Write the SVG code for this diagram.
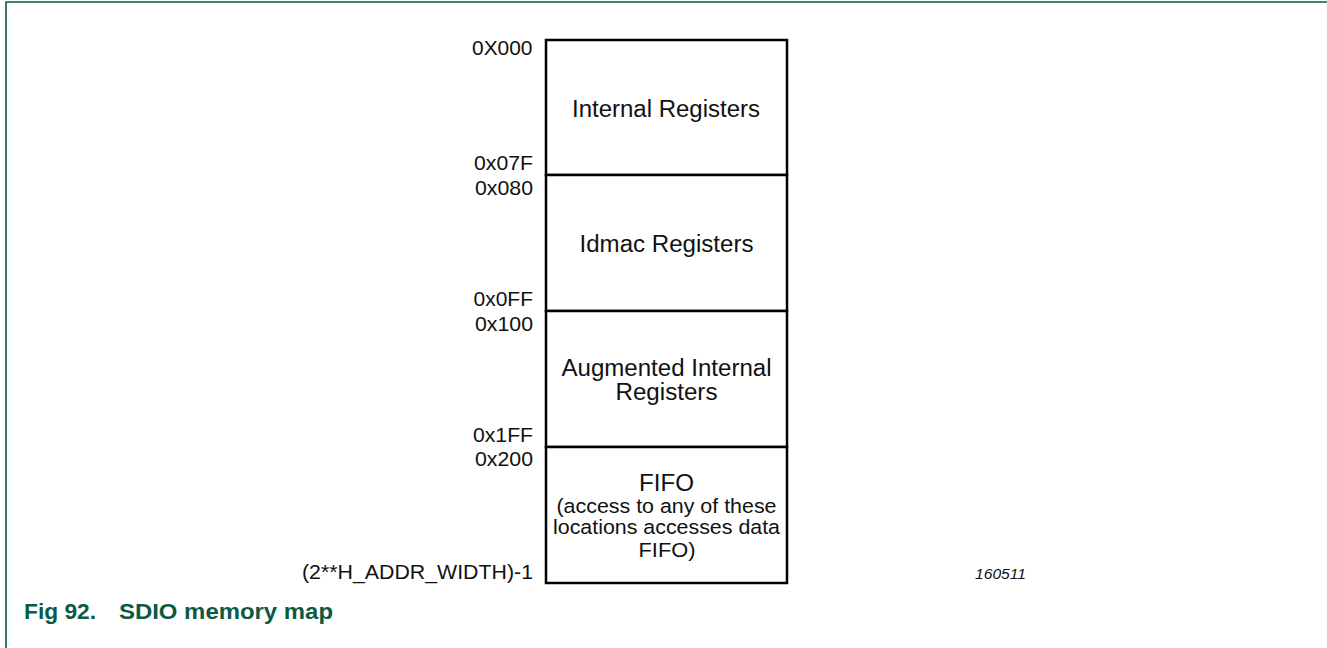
<svg xmlns="http://www.w3.org/2000/svg" width="1327" height="648" viewBox="0 0 1327 648">
<style>
  .frame { stroke: #0a5a44; stroke-width: 1.6; fill: none; }
  .box { fill: #ffffff; stroke: #000000; stroke-width: 2.5; }
  .t { font-family: "Liberation Sans", Arial, sans-serif; fill: #111111; }
  .title { font-size: 23px; }
  .sub { font-size: 20.5px; }
  .lbl { font-size: 20.5px; }
  .cap { font-family: "Liberation Sans", Arial, sans-serif; font-weight: bold; font-size: 22px; fill: #0a5a44; }
  .ref { font-family: "Liberation Sans", Arial, sans-serif; font-style: italic; font-size: 14px; fill: #111111; }
</style>
<rect width="1327" height="648" fill="#ffffff"/>
<path class="frame" d="M6 648 V2 H1327"/>

<g id="internal-registers">
  <rect class="box" x="546" y="40" width="241" height="135"/>
  <text class="t title" x="572" y="116.5" textLength="188" lengthAdjust="spacingAndGlyphs">Internal Registers</text>
</g>
<g id="idmac-registers">
  <rect class="box" x="546" y="175" width="241" height="136"/>
  <text class="t title" x="579.5" y="252" textLength="174" lengthAdjust="spacingAndGlyphs">Idmac Registers</text>
</g>
<g id="augmented-internal-registers">
  <rect class="box" x="546" y="311" width="241" height="136"/>
  <text class="t title" x="561.5" y="376" textLength="210" lengthAdjust="spacingAndGlyphs">Augmented Internal</text>
  <text class="t title" x="615.5" y="399.5" textLength="102" lengthAdjust="spacingAndGlyphs">Registers</text>
</g>
<g id="fifo">
  <rect class="box" x="546" y="447" width="241" height="136"/>
  <text class="t title" x="639" y="491" textLength="55" lengthAdjust="spacingAndGlyphs">FIFO</text>
  <text class="t sub" x="556.5" y="512.5" textLength="220" lengthAdjust="spacingAndGlyphs">(access to any of these</text>
  <text class="t sub" x="553" y="533.5" textLength="227" lengthAdjust="spacingAndGlyphs">locations accesses data</text>
  <text class="t sub" x="638.5" y="556.5" textLength="57" lengthAdjust="spacingAndGlyphs">FIFO)</text>
</g>

<g id="address-labels">
  <text class="t lbl" x="472" y="54.5" textLength="60.5" lengthAdjust="spacingAndGlyphs">0X000</text>
  <text class="t lbl" x="474" y="170" textLength="59" lengthAdjust="spacingAndGlyphs">0x07F</text>
  <text class="t lbl" x="475" y="194.5" textLength="58" lengthAdjust="spacingAndGlyphs">0x080</text>
  <text class="t lbl" x="473.5" y="306" textLength="59.5" lengthAdjust="spacingAndGlyphs">0x0FF</text>
  <text class="t lbl" x="475" y="330.5" textLength="58" lengthAdjust="spacingAndGlyphs">0x100</text>
  <text class="t lbl" x="473" y="441.5" textLength="60" lengthAdjust="spacingAndGlyphs">0x1FF</text>
  <text class="t lbl" x="475" y="466" textLength="58" lengthAdjust="spacingAndGlyphs">0x200</text>
  <text class="t lbl" x="302" y="579" textLength="231" lengthAdjust="spacingAndGlyphs">(2**H_ADDR_WIDTH)-1</text>
</g>

<text class="ref" x="975" y="579" textLength="51" lengthAdjust="spacingAndGlyphs">160511</text>
<g id="caption">
  <text class="cap" x="24" y="618.5" textLength="72" lengthAdjust="spacingAndGlyphs">Fig 92.</text>
  <text class="cap" x="119" y="618.5" textLength="214" lengthAdjust="spacingAndGlyphs">SDIO memory map</text>
</g>
</svg>
